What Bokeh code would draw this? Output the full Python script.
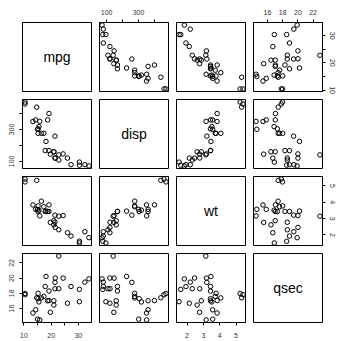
from bokeh.plotting import figure
from bokeh.layouts import gridplot
from bokeh.models import Range1d, LinearAxis, FixedTicker
from bokeh.core.properties import value
from bokeh.embed import file_html
from bokeh.resources import INLINE

# mtcars columns
mpg = [21.0, 21.0, 22.8, 21.4, 18.7, 18.1, 14.3, 24.4, 22.8, 19.2, 17.8, 16.4, 17.3, 15.2, 10.4, 10.4,
       14.7, 32.4, 30.4, 33.9, 21.5, 15.5, 15.2, 13.3, 19.2, 27.3, 26.0, 30.4, 15.8, 19.7, 15.0, 21.4]
disp = [160, 160, 108, 258, 360, 225, 360, 146.7, 140.8, 167.6, 167.6, 275.8, 275.8, 275.8, 472, 460,
        440, 78.7, 75.7, 71.1, 120.1, 318, 304, 350, 400, 79, 120.3, 95.1, 351, 145, 301, 121]
wt = [2.620, 2.875, 2.320, 3.215, 3.440, 3.460, 3.570, 3.190, 3.150, 3.440, 3.440, 4.070, 3.730, 3.780,
      5.250, 5.424, 5.345, 2.200, 1.615, 1.835, 2.465, 3.520, 3.435, 3.840, 3.845, 1.935, 2.140, 1.513,
      3.170, 2.770, 3.570, 2.780]
qsec = [16.46, 17.02, 18.61, 19.44, 17.02, 20.22, 15.84, 20.00, 22.90, 18.30, 18.90, 17.40, 17.60, 18.00,
        17.98, 17.82, 17.42, 19.47, 18.52, 19.90, 20.01, 16.87, 17.30, 15.41, 17.05, 18.90, 16.70, 16.90,
        14.50, 15.50, 14.60, 18.60]

names = ["mpg", "disp", "wt", "qsec"]
columns = {"mpg": mpg, "disp": disp, "wt": wt, "qsec": qsec}

# labelled ticks and unlabelled ticks
major_ticks = {"mpg": [10, 20, 30], "disp": [100, 300], "wt": [2, 3, 4, 5], "qsec": [16, 18, 20, 22]}
minor_ticks = {"mpg": [15, 25], "disp": [200, 400], "wt": [], "qsec": []}

FONT = "Liberation Sans"
FRAME = 69
GAP_HALF = 4
OUT_LEFT, OUT_TOP, OUT_RIGHT, OUT_BOTTOM = 22, 22, 15, 18


def rng(name):
    v = columns[name]
    lo, hi = min(v), max(v)
    pad = 0.04 * (hi - lo)
    return Range1d(lo - pad, hi + pad)


def make_axis(name, vertical, standoff):
    ax = LinearAxis(
        ticker=FixedTicker(ticks=major_ticks[name], minor_ticks=minor_ticks[name]),
        major_tick_in=0, major_tick_out=3, minor_tick_in=0, minor_tick_out=3,
        major_tick_line_color="black", minor_tick_line_color="black",
        axis_line_color="black",
        major_label_standoff=standoff,
        major_label_text_font_size="7px",
        major_label_text_font=FONT,
        major_label_text_color="#333333",
    )
    if vertical:
        ax.major_label_orientation = "vertical"
    return ax


n = len(names)
grid = []
for i, yname in enumerate(names):
    row = []
    for j, xname in enumerate(names):
        bl = OUT_LEFT if j == 0 else GAP_HALF
        br = OUT_RIGHT if j == n - 1 else GAP_HALF
        bt = OUT_TOP if i == 0 else GAP_HALF
        bb = OUT_BOTTOM if i == n - 1 else GAP_HALF
        if i == j:
            xr, yr = Range1d(0, 1), Range1d(0, 1)
        else:
            xr, yr = rng(xname), rng(yname)
        p = figure(frame_width=FRAME, frame_height=FRAME,
                   x_range=xr, y_range=yr,
                   toolbar_location=None, output_backend="svg",
                   x_axis_location=None, y_axis_location=None,
                   min_border_left=bl, min_border_right=br,
                   min_border_top=bt, min_border_bottom=bb,
                   outline_line_color="black", outline_line_width=1, outline_line_alpha=1,
                   background_fill_color="white", border_fill_color="white")
        p.grid.visible = False
        if i == j:
            p.text(x=[0.5], y=[0.5], text=[yname], text_align="center", text_baseline="middle",
                   text_font=value(FONT), text_font_size="14px", text_color="black")
        else:
            p.scatter(x=columns[xname], y=columns[yname], marker="circle", size=4.5,
                      fill_color=None, line_color="black", line_width=1)
        # outer axes as in R's pairs()
        if i == 0 and j % 2 == 1:
            p.add_layout(make_axis(xname, False, 5), "above")
        if i == n - 1 and j % 2 == 0:
            p.add_layout(make_axis(xname, False, 7), "below")
        if j == 0 and i % 2 == 1:
            p.add_layout(make_axis(yname, True, 5), "left")
        if j == n - 1 and i % 2 == 0:
            p.add_layout(make_axis(yname, True, 4), "right")
        row.append(p)
    grid.append(row)

layout = gridplot(grid, toolbar_location=None)

open("out.html", "w").write(file_html(layout, INLINE))
